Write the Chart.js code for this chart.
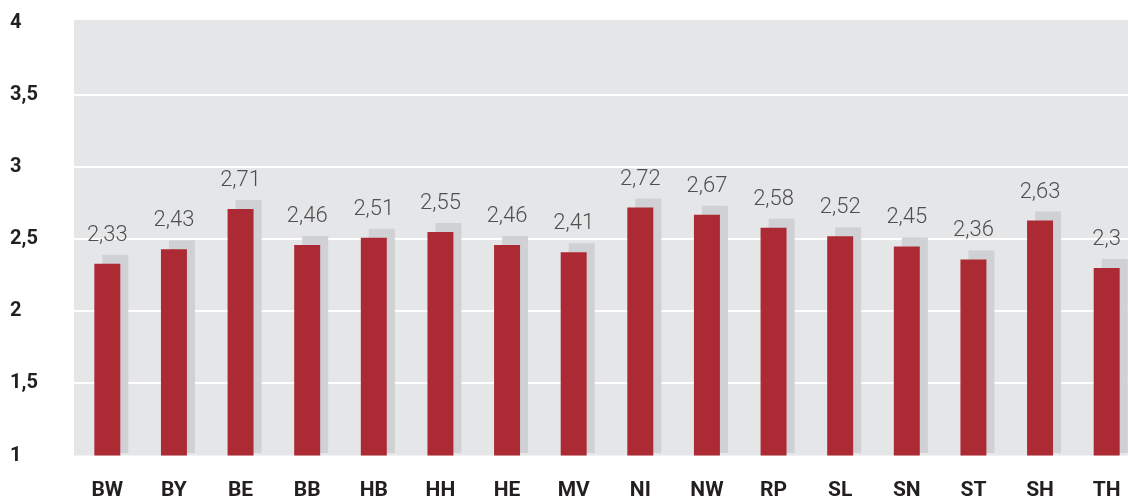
<!DOCTYPE html>
<html>
<head>
<meta charset="utf-8">
<script src="https://cdn.jsdelivr.net/npm/chart.js@4/dist/chart.umd.min.js"></script>
<style>
  html, body { margin: 0; padding: 0; background: #ffffff; overflow: hidden; }
  #wrap { width: 1128px; height: 500px; overflow: hidden; position: relative; }
  #c { position: absolute; left: 0; top: 0; }
</style>
</head>
<body>
<div id="wrap"><canvas id="c" width="1140" height="500"></canvas></div>
<script>
const categories = ["BW","BY","BE","BB","HB","HH","HE","MV","NI","NW","RP","SL","SN","ST","SH","TH"];
const values = [2.33, 2.43, 2.71, 2.46, 2.51, 2.55, 2.46, 2.41, 2.72, 2.67, 2.58, 2.52, 2.45, 2.36, 2.63, 2.3];
const yTicks = [1, 1.5, 2, 2.5, 3, 3.5, 4];

const fmt = v => String(v).replace('.', ',');

const bgPlugin = {
  id: 'plotBg',
  beforeDraw(chart) {
    const {ctx, chartArea: a} = chart;
    ctx.save();
    ctx.fillStyle = '#e5e6e8';
    ctx.fillRect(a.left, a.top - 3, a.right - a.left, a.bottom - a.top + 3);
    ctx.restore();
  }
};

const shadowPlugin = {
  id: 'barShadow',
  beforeDatasetsDraw(chart) {
    const {ctx, chartArea: a} = chart;
    const meta = chart.getDatasetMeta(0);
    ctx.save();
    ctx.fillStyle = '#d0d1d4';
    meta.data.forEach(bar => {
      const w = bar.width;
      const x0 = bar.x - w / 2 + 8;
      const top = bar.y - 9;
      ctx.fillRect(x0, top, w, (a.bottom - 2.5) - top);
    });
    ctx.restore();
  }
};

const labelPlugin = {
  id: 'valueLabels',
  afterDatasetsDraw(chart) {
    const {ctx} = chart;
    const meta = chart.getDatasetMeta(0);
    const ys = chart.scales.y;
    ctx.save();
    ctx.font = '300 22px Roboto, "Liberation Sans", sans-serif';
    ctx.fillStyle = '#4f4f4f';
    ctx.textAlign = 'center';
    ctx.textBaseline = 'alphabetic';
    meta.data.forEach((bar, i) => {
      const v = values[i];
      ctx.fillText(fmt(v), bar.x, ys.getPixelForValue(v) - 23);
    });
    ctx.restore();
  }
};

new Chart(document.getElementById('c'), {
  type: 'bar',
  data: {
    labels: categories,
    datasets: [{
      data: values,
      backgroundColor: '#ab2a33',
      borderWidth: 0,
      categoryPercentage: 1,
      barPercentage: 0.39
    }]
  },
  options: {
    responsive: false,
    animation: false,
    devicePixelRatio: 1,
    layout: { padding: { left: 10, top: 23, right: 0, bottom: 0 } },
    plugins: { legend: { display: false }, tooltip: { enabled: false } },
    scales: {
      x: {
        grid: { display: false, drawTicks: false },
        border: { display: false },
        ticks: {
          padding: 23,
          color: '#231f20',
          font: { family: 'Roboto, "Liberation Sans", sans-serif', size: 21, weight: 'bold' },
          maxRotation: 0, autoSkip: false
        },
        afterFit(s) { s.height = 44.5; s.paddingLeft = 0; s.paddingRight = 0; }
      },
      y: {
        min: 1, max: 4,
        afterBuildTicks(s) { s.ticks = yTicks.map(v => ({ value: v })); },
        grid: {
          drawTicks: false,
          color: c => (c.tick && (c.tick.value === 1 || c.tick.value === 4)) ? 'rgba(0,0,0,0)' : '#ffffff',
          lineWidth: 2
        },
        border: { display: false },
        ticks: {
          crossAlign: 'far',
          padding: 0,
          color: '#231f20',
          font: { family: 'Roboto, "Liberation Sans", sans-serif', size: 20, weight: 'bold' },
          callback: v => fmt(v)
        },
        afterFit(s) { s.width = 64; s.paddingTop = 0; s.paddingBottom = 0; }
      }
    }
  },
  plugins: [bgPlugin, shadowPlugin, labelPlugin]
});
</script>
</body>
</html>
